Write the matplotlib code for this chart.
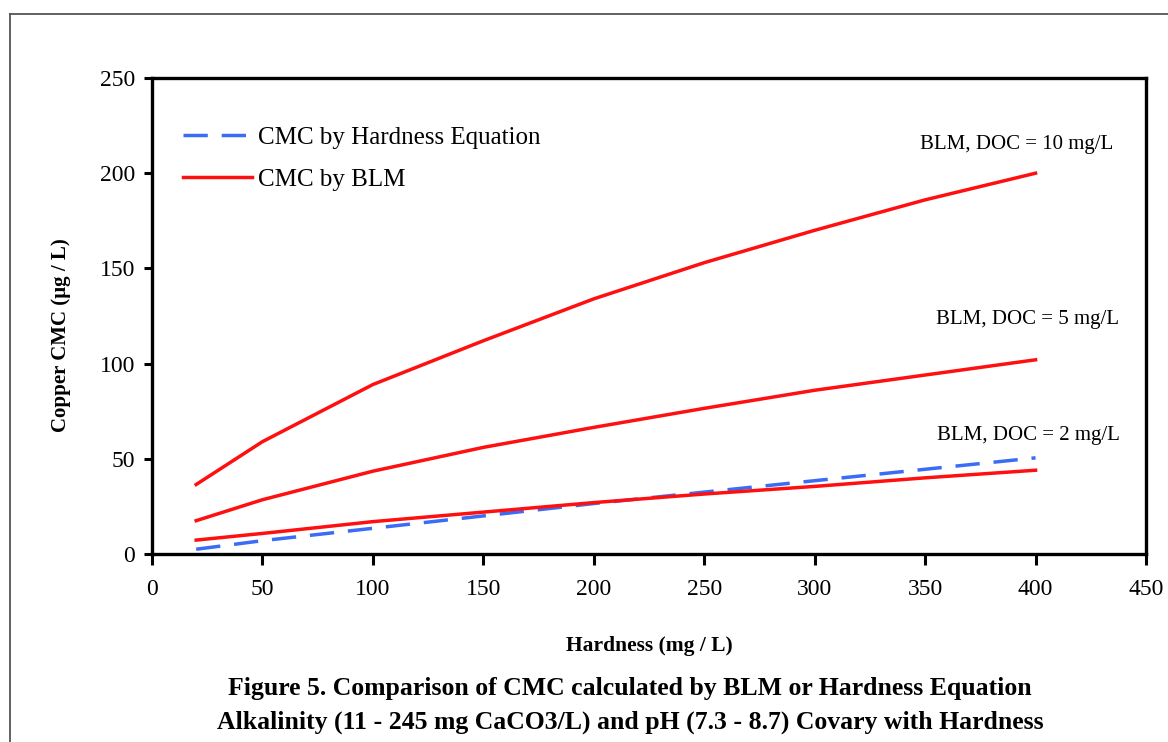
import matplotlib
matplotlib.use("Agg")
import matplotlib.pyplot as plt
from matplotlib.lines import Line2D

plt.rcParams['font.family'] = ['Liberation Serif', 'DejaVu Serif']

hardness = [20, 50, 100, 150, 200, 250, 300, 350, 400]
cmc_hardness_eq = [2.5, 7, 13.5, 20, 26.5, 32.5, 38.5, 44.5, 50.5]
blm_doc10 = [36.5, 59, 89, 112, 134, 153, 170, 186, 200]
blm_doc5 = [17.5, 28.5, 43.5, 56, 66.5, 76.5, 86, 94, 102]
blm_doc2 = [7.3, 10.8, 17, 22, 27, 31.5, 35.5, 40, 44]

x_ticks = [0, 50, 100, 150, 200, 250, 300, 350, 400, 450]
y_ticks = [0, 50, 100, 150, 200, 250]

RED = '#ff1010'
BLUE = '#3a6cf5'

fig = plt.figure(figsize=(11.68, 7.42), dpi=100)
ax = fig.add_axes([152/1168, 1-554/742, (1146-152)/1168, (554-78)/742])

# outer frame (left and top edges visible)
fig.add_artist(Line2D([10/1168, 10/1168], [0, 1-14/742], transform=fig.transFigure,
                      color='#555555', lw=1.3))
fig.add_artist(Line2D([10/1168, 1], [1-14/742, 1-14/742], transform=fig.transFigure,
                      color='#555555', lw=1.3))

ax.plot(hardness, cmc_hardness_eq, color=BLUE, lw=2.5, dashes=(7, 4),
        label='CMC by Hardness Equation')
ax.plot(hardness, blm_doc10, color=RED, lw=2.5, label='CMC by BLM')
ax.plot(hardness, blm_doc5, color=RED, lw=2.5)
ax.plot(hardness, blm_doc2, color=RED, lw=2.5)

ax.set_xlim(0, 450)
ax.set_ylim(0, 250)
ax.set_xticks(x_ticks)
ax.set_yticks(y_ticks)
ax.tick_params(axis='both', direction='out', width=2.2, length=8, labelsize=17, pad=10)
ax.tick_params(axis='y', length=6, pad=6)
for s in ax.spines.values():
    s.set_linewidth(2.4)

ax.set_xlabel('Hardness (mg / L)', fontsize=15.5, fontweight='bold', labelpad=26)
ax.set_ylabel('Copper CMC (µg / L)', fontsize=15, fontweight='bold')
ax.yaxis.set_label_coords(-0.081, 0.46)

leg = ax.legend(loc='upper left', bbox_to_anchor=(0.021, 0.919), frameon=False,
                fontsize=18, handlelength=2.76, handletextpad=0.24, labelspacing=0.76,
                borderaxespad=0)

ax.text(435, 215, 'BLM, DOC = 10 mg/L', fontsize=15, ha='right', va='center')
ax.text(438, 123, 'BLM, DOC = 5 mg/L', fontsize=15, ha='right', va='center')
ax.text(438, 62, 'BLM, DOC = 2 mg/L', fontsize=15, ha='right', va='center')

fig.text(630/1168, 1-688/742,
         'Figure 5. Comparison of CMC calculated by BLM or Hardness Equation',
         ha='center', va='center', fontsize=18.5, fontweight='bold')
fig.text(630/1168, 1-722/742,
         'Alkalinity (11 - 245 mg CaCO3/L) and pH (7.3 - 8.7) Covary with Hardness',
         ha='center', va='center', fontsize=18.5, fontweight='bold')

fig.savefig('out.png', dpi=100)
